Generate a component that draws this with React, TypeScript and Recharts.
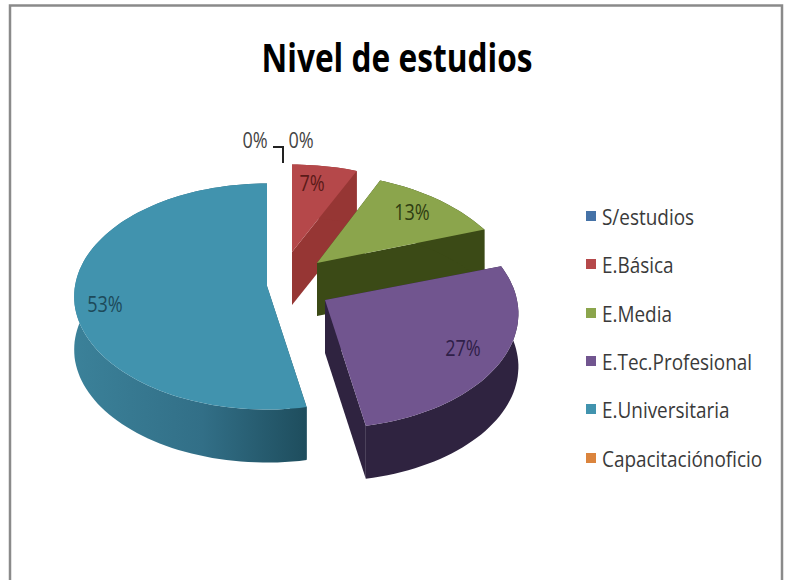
import { PieChart, Pie, Cell, Legend } from 'recharts'

const categories = ['S/estudios', 'E.Básica', 'E.Media', 'E.Tec.Profesional', 'E.Universitaria', 'Capacitaciónoficio']
const values = [0, 7, 13, 27, 53, 0]
const colors = ['#4572a7', '#b5484a', '#8ba54c', '#71558f', '#4193ae', '#db843d']
const sideColors = ['#4572a7', '#963634', '#3b4a16', '#2f2340', 'url(#tealSide)', '#db843d']
const labelColors = ['#444444', '#5a1a18', '#2f3d12', '#2f2048', '#1d4a5a', '#444444']

const data = categories.map((name, i) => ({ name, value: values[i] }))

// fake 3D: each slice is pulled out of the centre and drawn on a tilted plane
const DEPTH = 53
const slicePose = [
  { dx: 0, dy: 0, rx: 0, ry: 0, k: 0 },
  { dx: 25, dy: -31, rx: 200, ry: 118, k: -0.35 },
  { dx: 50, dy: -20, rx: 195, ry: 120, k: -0.35 },
  { dx: 58, dy: 17, rx: 192, ry: 113, k: -0.12 },
  { dx: 0, dy: 3, rx: 192, ry: 112, k: -0.0933 },
  { dx: 0, dy: 0, rx: 0, ry: 0, k: 0 },
]
const labelSpots = [
  { dx: 34, dy: -143 },
  { dx: 45, dy: -100 },
  { dx: 145, dy: -71 },
  { dx: 196, dy: 65 },
  { dx: -162, dy: 21 },
  { dx: -12, dy: -143 },
]

const FONT = '"Open Sans", sans-serif'

const project = (cx: number, cy: number, rx: number, ry: number, k: number, deg: number) => {
  const t = ((90 - deg) * Math.PI) / 180
  const u = Math.sin(t)
  const v = -Math.cos(t)
  const w = 1 + k * v
  return [cx + (rx * u) / w, cy + (ry * v) / w]
}

const toPath = (pts: number[][]) =>
  pts.map((p, i) => `${i ? 'L' : 'M'}${p[0].toFixed(1)} ${p[1].toFixed(1)}`).join(' ') + ' Z'

function Slice3D(props: any) {
  const { cx, cy, startAngle, endAngle, index, fill } = props
  const pose = slicePose[index]
  if (!pose.rx || startAngle === endAngle) return <g />
  const ox = cx + pose.dx
  const oy = cy + pose.dy
  const arc: number[][] = []
  const steps = Math.ceil(Math.abs(endAngle - startAngle) / 2)
  for (let s = 0; s <= steps; s++) {
    arc.push(project(ox, oy, pose.rx, pose.ry, pose.k, startAngle + ((endAngle - startAngle) * s) / steps))
  }
  const down = (p: number[]) => [p[0], p[1] + DEPTH]
  const apex = [ox, oy]
  const wall = [...arc, ...[...arc].reverse().map(down)]
  const first = [apex, arc[0], down(arc[0]), down(apex)]
  const last = [apex, arc[arc.length - 1], down(arc[arc.length - 1]), down(apex)]
  return (
    <g>
      <path d={toPath(first)} fill={sideColors[index]} />
      <path d={toPath(last)} fill={sideColors[index]} />
      <path d={toPath(wall)} fill={sideColors[index]} />
      <path d={toPath([apex, ...arc])} fill={fill} />
    </g>
  )
}

function PctLabel(props: any) {
  const { cx, cy, index, percent } = props
  const spot = labelSpots[index]
  return (
    <g transform={`translate(${cx + spot.dx},${cy + spot.dy}) scale(0.86,1)`}>
      <text
        textAnchor="middle"
        dominantBaseline="central"
        fontFamily={FONT}
        fontSize={21}
        fill={labelColors[index]}
      >
        {`${Math.round(percent * 100)}%`}
      </text>
    </g>
  )
}

function LegendList({ payload }: any) {
  return (
    <div style={{ fontFamily: FONT, fontSize: 22, color: '#3a3a3a' }}>
      {(payload ?? []).map((item: any) => (
        <div key={item.value} style={{ height: 48.3, display: 'flex', alignItems: 'center' }}>
          <span style={{ width: 10, height: 10, background: item.color, marginRight: 6, flex: 'none' }} />
          <span style={{ display: 'inline-block', whiteSpace: 'nowrap', transform: 'scaleX(0.86)', transformOrigin: 'left center' }}>
            {item.value}
          </span>
        </div>
      ))}
    </div>
  )
}

export default function App() {
  return (
    <div style={{ position: 'absolute', left: 0, top: 0, width: 791, height: 580, overflow: 'hidden' }}>
      <PieChart width={791} height={580} margin={{ top: 0, right: 0, bottom: 0, left: 0 }}>
        <defs>
          <linearGradient id="tealSide" gradientUnits="userSpaceOnUse" x1="74" y1="0" x2="307" y2="0">
            <stop offset="0%" stopColor="#3b8199" />
            <stop offset="55%" stopColor="#326f87" />
            <stop offset="100%" stopColor="#1e4d5d" />
          </linearGradient>
        </defs>
        <rect x={10} y={5.5} width={772} height={600} fill="#fff" stroke="#8a8a8a" strokeWidth={2.5} />
        <text
          x={397}
          y={72}
          textAnchor="middle"
          fontFamily={FONT}
          fontWeight={700}
          fontSize={40}
          textLength={271}
          lengthAdjust="spacingAndGlyphs"
          fill="#000"
        >
          Nivel de estudios
        </text>
        <Pie
          data={data}
          dataKey="value"
          nameKey="name"
          cx={267}
          cy={283}
          outerRadius={192}
          startAngle={90}
          endAngle={-270}
          stroke="none"
          isAnimationActive={false}
          shape={Slice3D}
          label={PctLabel}
          labelLine={false}
        >
          {data.map((d, i) => (
            <Cell key={d.name} fill={colors[i]} />
          ))}
        </Pie>
        <path d="M273 147 H283 V163" fill="none" stroke="#222" strokeWidth={2} />
        <Legend
          layout="vertical"
          align="right"
          verticalAlign="top"
          itemSorter={null}
          content={LegendList}
          wrapperStyle={{ left: 586, top: 192, width: 195 }}
        />
      </PieChart>
    </div>
  )
}
